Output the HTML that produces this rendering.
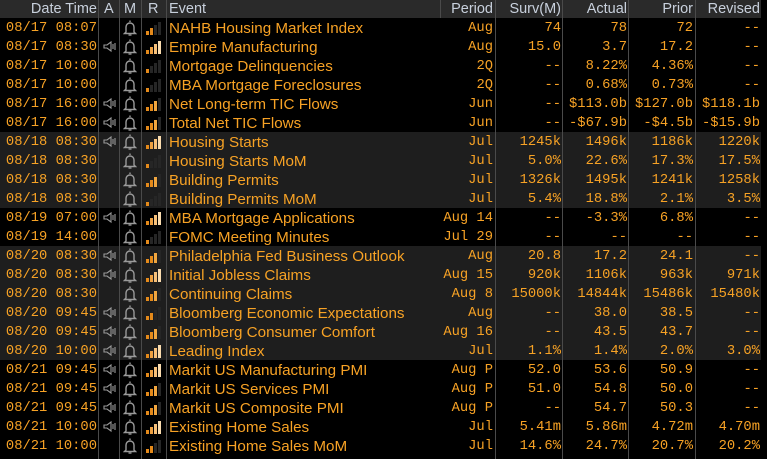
<!DOCTYPE html>
<html><head><meta charset="utf-8">
<style>
html,body{margin:0;padding:0;background:#000;width:767px;height:459px;overflow:hidden}
#w{position:relative;width:767px;height:459px;background:#000}
.row{position:absolute;left:0;width:767px;height:19px;line-height:19px;color:#f7a225;font-family:"Liberation Mono",monospace;font-size:13.8px}
.g{background:#1e1e1e;width:761px}
.hd{position:absolute;left:0;top:0;width:761px;height:18px;background:#2a2a2a;color:#c8d0dc;font-family:"Liberation Sans",sans-serif;font-size:14.5px;line-height:18px}
.row span,.hd span{position:absolute;top:0;white-space:nowrap}
.row span{top:1px}
.dt{left:0;width:97px;text-align:right}
.ev{left:169px;font-family:"Liberation Sans",sans-serif;font-size:15.2px}
.pe{left:430px;width:63px;text-align:right}
.sv{left:495px;width:66px;text-align:right}
.ac{left:562px;width:65px;text-align:right}
.pr{left:628px;width:65px;text-align:right}
.rv{left:695px;width:65px;text-align:right}
.vl{position:absolute;top:0;height:459px;width:1px;background:#4a4a4a}
svg.ic{position:absolute;top:0}
</style></head><body><div id="w">
<svg width="0" height="0" style="position:absolute">
<defs>
<symbol id="sp" viewBox="0 0 14 19"><path d="M1 8h3l4-3v9l-4-3H1z" fill="none" stroke="#9a9a9a" stroke-width="1.1"/><path d="M10 7v5M12 6v7" stroke="#9a9a9a" stroke-width="1.1"/></symbol>
<symbol id="bl" viewBox="0 0 14 19"><path d="M7 2.5v1.5M3 14V9a4 4 0 0 1 8 0v5l1.5 1.5H1.5z" fill="none" stroke="#9a9a9a" stroke-width="1.4"/><path d="M5.5 17h3" stroke="#9a9a9a" stroke-width="1.4"/></symbol>
<symbol id="b1" viewBox="0 0 16 19"><rect x="0" y="13" width="3" height="4" fill="#e58a1a"/><rect x="4" y="10" width="3" height="7" fill="#262626"/><rect x="8" y="7" width="3" height="10" fill="#262626"/><rect x="12" y="4" width="3" height="13" fill="#262626"/></symbol>
<symbol id="b2" viewBox="0 0 16 19"><rect x="0" y="13" width="3" height="4" fill="#e58a1a"/><rect x="4" y="10" width="3" height="7" fill="#e58a1a"/><rect x="8" y="7" width="3" height="10" fill="#262626"/><rect x="12" y="4" width="3" height="13" fill="#262626"/></symbol>
<symbol id="b3" viewBox="0 0 16 19"><rect x="0" y="13" width="3" height="4" fill="#e58a1a"/><rect x="4" y="10" width="3" height="7" fill="#e58a1a"/><rect x="8" y="7" width="3" height="10" fill="#f0a640"/><rect x="12" y="4" width="3" height="13" fill="#262626"/></symbol>
<symbol id="b4" viewBox="0 0 16 19"><rect x="0" y="13" width="3" height="4" fill="#e58a1a"/><rect x="4" y="10" width="3" height="7" fill="#eea040"/><rect x="8" y="7" width="3" height="10" fill="#f6c07a"/><rect x="12" y="4" width="3" height="13" fill="#fbdcae"/></symbol>
</defs></svg>

<div class="hd"><span class="dt" style="width:97px">Date Time</span><span style="left:104px">A</span><span style="left:124px">M</span><span style="left:148px">R</span><span style="left:169px">Event</span><span class="pe">Period</span><span class="sv">Surv(M)</span><span class="ac">Actual</span><span class="pr">Prior</span><span class="rv">Revised</span></div>

<div class="row" style="top:18px"><span class="dt">08/17 08:07</span><svg class="ic" style="left:123px" width="14" height="19"><use href="#bl"/></svg><svg class="ic" style="left:146px" width="16" height="19"><use href="#b2"/></svg><span class="ev">NAHB Housing Market Index</span><span class="pe">Aug</span><span class="sv">74</span><span class="ac">78</span><span class="pr">72</span><span class="rv">--</span></div>
<div class="row" style="top:37px"><span class="dt">08/17 08:30</span><svg class="ic" style="left:103px" width="14" height="19"><use href="#sp"/></svg><svg class="ic" style="left:123px" width="14" height="19"><use href="#bl"/></svg><svg class="ic" style="left:146px" width="16" height="19"><use href="#b4"/></svg><span class="ev">Empire Manufacturing</span><span class="pe">Aug</span><span class="sv">15.0</span><span class="ac">3.7</span><span class="pr">17.2</span><span class="rv">--</span></div>
<div class="row" style="top:56px"><span class="dt">08/17 10:00</span><svg class="ic" style="left:123px" width="14" height="19"><use href="#bl"/></svg><svg class="ic" style="left:146px" width="16" height="19"><use href="#b1"/></svg><span class="ev">Mortgage Delinquencies</span><span class="pe">2Q</span><span class="sv">--</span><span class="ac">8.22%</span><span class="pr">4.36%</span><span class="rv">--</span></div>
<div class="row" style="top:75px"><span class="dt">08/17 10:00</span><svg class="ic" style="left:123px" width="14" height="19"><use href="#bl"/></svg><svg class="ic" style="left:146px" width="16" height="19"><use href="#b1"/></svg><span class="ev">MBA Mortgage Foreclosures</span><span class="pe">2Q</span><span class="sv">--</span><span class="ac">0.68%</span><span class="pr">0.73%</span><span class="rv">--</span></div>
<div class="row" style="top:94px"><span class="dt">08/17 16:00</span><svg class="ic" style="left:103px" width="14" height="19"><use href="#sp"/></svg><svg class="ic" style="left:123px" width="14" height="19"><use href="#bl"/></svg><svg class="ic" style="left:146px" width="16" height="19"><use href="#b3"/></svg><span class="ev">Net Long-term TIC Flows</span><span class="pe">Jun</span><span class="sv">--</span><span class="ac">$113.0b</span><span class="pr">$127.0b</span><span class="rv">$118.1b</span></div>
<div class="row" style="top:113px"><span class="dt">08/17 16:00</span><svg class="ic" style="left:103px" width="14" height="19"><use href="#sp"/></svg><svg class="ic" style="left:123px" width="14" height="19"><use href="#bl"/></svg><svg class="ic" style="left:146px" width="16" height="19"><use href="#b3"/></svg><span class="ev">Total Net TIC Flows</span><span class="pe">Jun</span><span class="sv">--</span><span class="ac">-$67.9b</span><span class="pr">-$4.5b</span><span class="rv">-$15.9b</span></div>
<div class="row g" style="top:132px"><span class="dt">08/18 08:30</span><svg class="ic" style="left:103px" width="14" height="19"><use href="#sp"/></svg><svg class="ic" style="left:123px" width="14" height="19"><use href="#bl"/></svg><svg class="ic" style="left:146px" width="16" height="19"><use href="#b4"/></svg><span class="ev">Housing Starts</span><span class="pe">Jul</span><span class="sv">1245k</span><span class="ac">1496k</span><span class="pr">1186k</span><span class="rv">1220k</span></div>
<div class="row g" style="top:151px"><span class="dt">08/18 08:30</span><svg class="ic" style="left:123px" width="14" height="19"><use href="#bl"/></svg><svg class="ic" style="left:146px" width="16" height="19"><use href="#b1"/></svg><span class="ev">Housing Starts MoM</span><span class="pe">Jul</span><span class="sv">5.0%</span><span class="ac">22.6%</span><span class="pr">17.3%</span><span class="rv">17.5%</span></div>
<div class="row g" style="top:170px"><span class="dt">08/18 08:30</span><svg class="ic" style="left:123px" width="14" height="19"><use href="#bl"/></svg><svg class="ic" style="left:146px" width="16" height="19"><use href="#b3"/></svg><span class="ev">Building Permits</span><span class="pe">Jul</span><span class="sv">1326k</span><span class="ac">1495k</span><span class="pr">1241k</span><span class="rv">1258k</span></div>
<div class="row g" style="top:189px"><span class="dt">08/18 08:30</span><svg class="ic" style="left:123px" width="14" height="19"><use href="#bl"/></svg><svg class="ic" style="left:146px" width="16" height="19"><use href="#b1"/></svg><span class="ev">Building Permits MoM</span><span class="pe">Jul</span><span class="sv">5.4%</span><span class="ac">18.8%</span><span class="pr">2.1%</span><span class="rv">3.5%</span></div>
<div class="row" style="top:208px"><span class="dt">08/19 07:00</span><svg class="ic" style="left:103px" width="14" height="19"><use href="#sp"/></svg><svg class="ic" style="left:123px" width="14" height="19"><use href="#bl"/></svg><svg class="ic" style="left:146px" width="16" height="19"><use href="#b4"/></svg><span class="ev">MBA Mortgage Applications</span><span class="pe">Aug 14</span><span class="sv">--</span><span class="ac">-3.3%</span><span class="pr">6.8%</span><span class="rv">--</span></div>
<div class="row" style="top:227px"><span class="dt">08/19 14:00</span><svg class="ic" style="left:123px" width="14" height="19"><use href="#bl"/></svg><svg class="ic" style="left:146px" width="16" height="19"><use href="#b1"/></svg><span class="ev">FOMC Meeting Minutes</span><span class="pe">Jul 29</span><span class="sv">--</span><span class="ac">--</span><span class="pr">--</span><span class="rv">--</span></div>
<div class="row g" style="top:246px"><span class="dt">08/20 08:30</span><svg class="ic" style="left:103px" width="14" height="19"><use href="#sp"/></svg><svg class="ic" style="left:123px" width="14" height="19"><use href="#bl"/></svg><svg class="ic" style="left:146px" width="16" height="19"><use href="#b3"/></svg><span class="ev">Philadelphia Fed Business Outlook</span><span class="pe">Aug</span><span class="sv">20.8</span><span class="ac">17.2</span><span class="pr">24.1</span><span class="rv">--</span></div>
<div class="row g" style="top:265px"><span class="dt">08/20 08:30</span><svg class="ic" style="left:103px" width="14" height="19"><use href="#sp"/></svg><svg class="ic" style="left:123px" width="14" height="19"><use href="#bl"/></svg><svg class="ic" style="left:146px" width="16" height="19"><use href="#b4"/></svg><span class="ev">Initial Jobless Claims</span><span class="pe">Aug 15</span><span class="sv">920k</span><span class="ac">1106k</span><span class="pr">963k</span><span class="rv">971k</span></div>
<div class="row g" style="top:284px"><span class="dt">08/20 08:30</span><svg class="ic" style="left:123px" width="14" height="19"><use href="#bl"/></svg><svg class="ic" style="left:146px" width="16" height="19"><use href="#b3"/></svg><span class="ev">Continuing Claims</span><span class="pe">Aug 8</span><span class="sv">15000k</span><span class="ac">14844k</span><span class="pr">15486k</span><span class="rv">15480k</span></div>
<div class="row g" style="top:303px"><span class="dt">08/20 09:45</span><svg class="ic" style="left:103px" width="14" height="19"><use href="#sp"/></svg><svg class="ic" style="left:123px" width="14" height="19"><use href="#bl"/></svg><svg class="ic" style="left:146px" width="16" height="19"><use href="#b2"/></svg><span class="ev">Bloomberg Economic Expectations</span><span class="pe">Aug</span><span class="sv">--</span><span class="ac">38.0</span><span class="pr">38.5</span><span class="rv">--</span></div>
<div class="row g" style="top:322px"><span class="dt">08/20 09:45</span><svg class="ic" style="left:103px" width="14" height="19"><use href="#sp"/></svg><svg class="ic" style="left:123px" width="14" height="19"><use href="#bl"/></svg><svg class="ic" style="left:146px" width="16" height="19"><use href="#b3"/></svg><span class="ev">Bloomberg Consumer Comfort</span><span class="pe">Aug 16</span><span class="sv">--</span><span class="ac">43.5</span><span class="pr">43.7</span><span class="rv">--</span></div>
<div class="row g" style="top:341px"><span class="dt">08/20 10:00</span><svg class="ic" style="left:103px" width="14" height="19"><use href="#sp"/></svg><svg class="ic" style="left:123px" width="14" height="19"><use href="#bl"/></svg><svg class="ic" style="left:146px" width="16" height="19"><use href="#b4"/></svg><span class="ev">Leading Index</span><span class="pe">Jul</span><span class="sv">1.1%</span><span class="ac">1.4%</span><span class="pr">2.0%</span><span class="rv">3.0%</span></div>
<div class="row" style="top:360px"><span class="dt">08/21 09:45</span><svg class="ic" style="left:103px" width="14" height="19"><use href="#sp"/></svg><svg class="ic" style="left:123px" width="14" height="19"><use href="#bl"/></svg><svg class="ic" style="left:146px" width="16" height="19"><use href="#b4"/></svg><span class="ev">Markit US Manufacturing PMI</span><span class="pe">Aug P</span><span class="sv">52.0</span><span class="ac">53.6</span><span class="pr">50.9</span><span class="rv">--</span></div>
<div class="row" style="top:379px"><span class="dt">08/21 09:45</span><svg class="ic" style="left:103px" width="14" height="19"><use href="#sp"/></svg><svg class="ic" style="left:123px" width="14" height="19"><use href="#bl"/></svg><svg class="ic" style="left:146px" width="16" height="19"><use href="#b3"/></svg><span class="ev">Markit US Services PMI</span><span class="pe">Aug P</span><span class="sv">51.0</span><span class="ac">54.8</span><span class="pr">50.0</span><span class="rv">--</span></div>
<div class="row" style="top:398px"><span class="dt">08/21 09:45</span><svg class="ic" style="left:103px" width="14" height="19"><use href="#sp"/></svg><svg class="ic" style="left:123px" width="14" height="19"><use href="#bl"/></svg><svg class="ic" style="left:146px" width="16" height="19"><use href="#b3"/></svg><span class="ev">Markit US Composite PMI</span><span class="pe">Aug P</span><span class="sv">--</span><span class="ac">54.7</span><span class="pr">50.3</span><span class="rv">--</span></div>
<div class="row" style="top:417px"><span class="dt">08/21 10:00</span><svg class="ic" style="left:103px" width="14" height="19"><use href="#sp"/></svg><svg class="ic" style="left:123px" width="14" height="19"><use href="#bl"/></svg><svg class="ic" style="left:146px" width="16" height="19"><use href="#b4"/></svg><span class="ev">Existing Home Sales</span><span class="pe">Jul</span><span class="sv">5.41m</span><span class="ac">5.86m</span><span class="pr">4.72m</span><span class="rv">4.70m</span></div>
<div class="row" style="top:436px"><span class="dt">08/21 10:00</span><svg class="ic" style="left:123px" width="14" height="19"><use href="#bl"/></svg><svg class="ic" style="left:146px" width="16" height="19"><use href="#b2"/></svg><span class="ev">Existing Home Sales MoM</span><span class="pe">Jul</span><span class="sv">14.6%</span><span class="ac">24.7%</span><span class="pr">20.7%</span><span class="rv">20.2%</span></div>

<div class="vl" style="left:98px"></div>
<div class="vl" style="left:119px"></div>
<div class="vl" style="left:141px"></div>
<div class="vl" style="left:166px"></div>
<div class="vl" style="left:495px"></div>
<div class="vl" style="left:562px"></div>
<div class="vl" style="left:628px"></div>
<div class="vl" style="left:695px"></div>
<div class="vl" style="left:440px;height:18px"></div>
</div></body></html>
